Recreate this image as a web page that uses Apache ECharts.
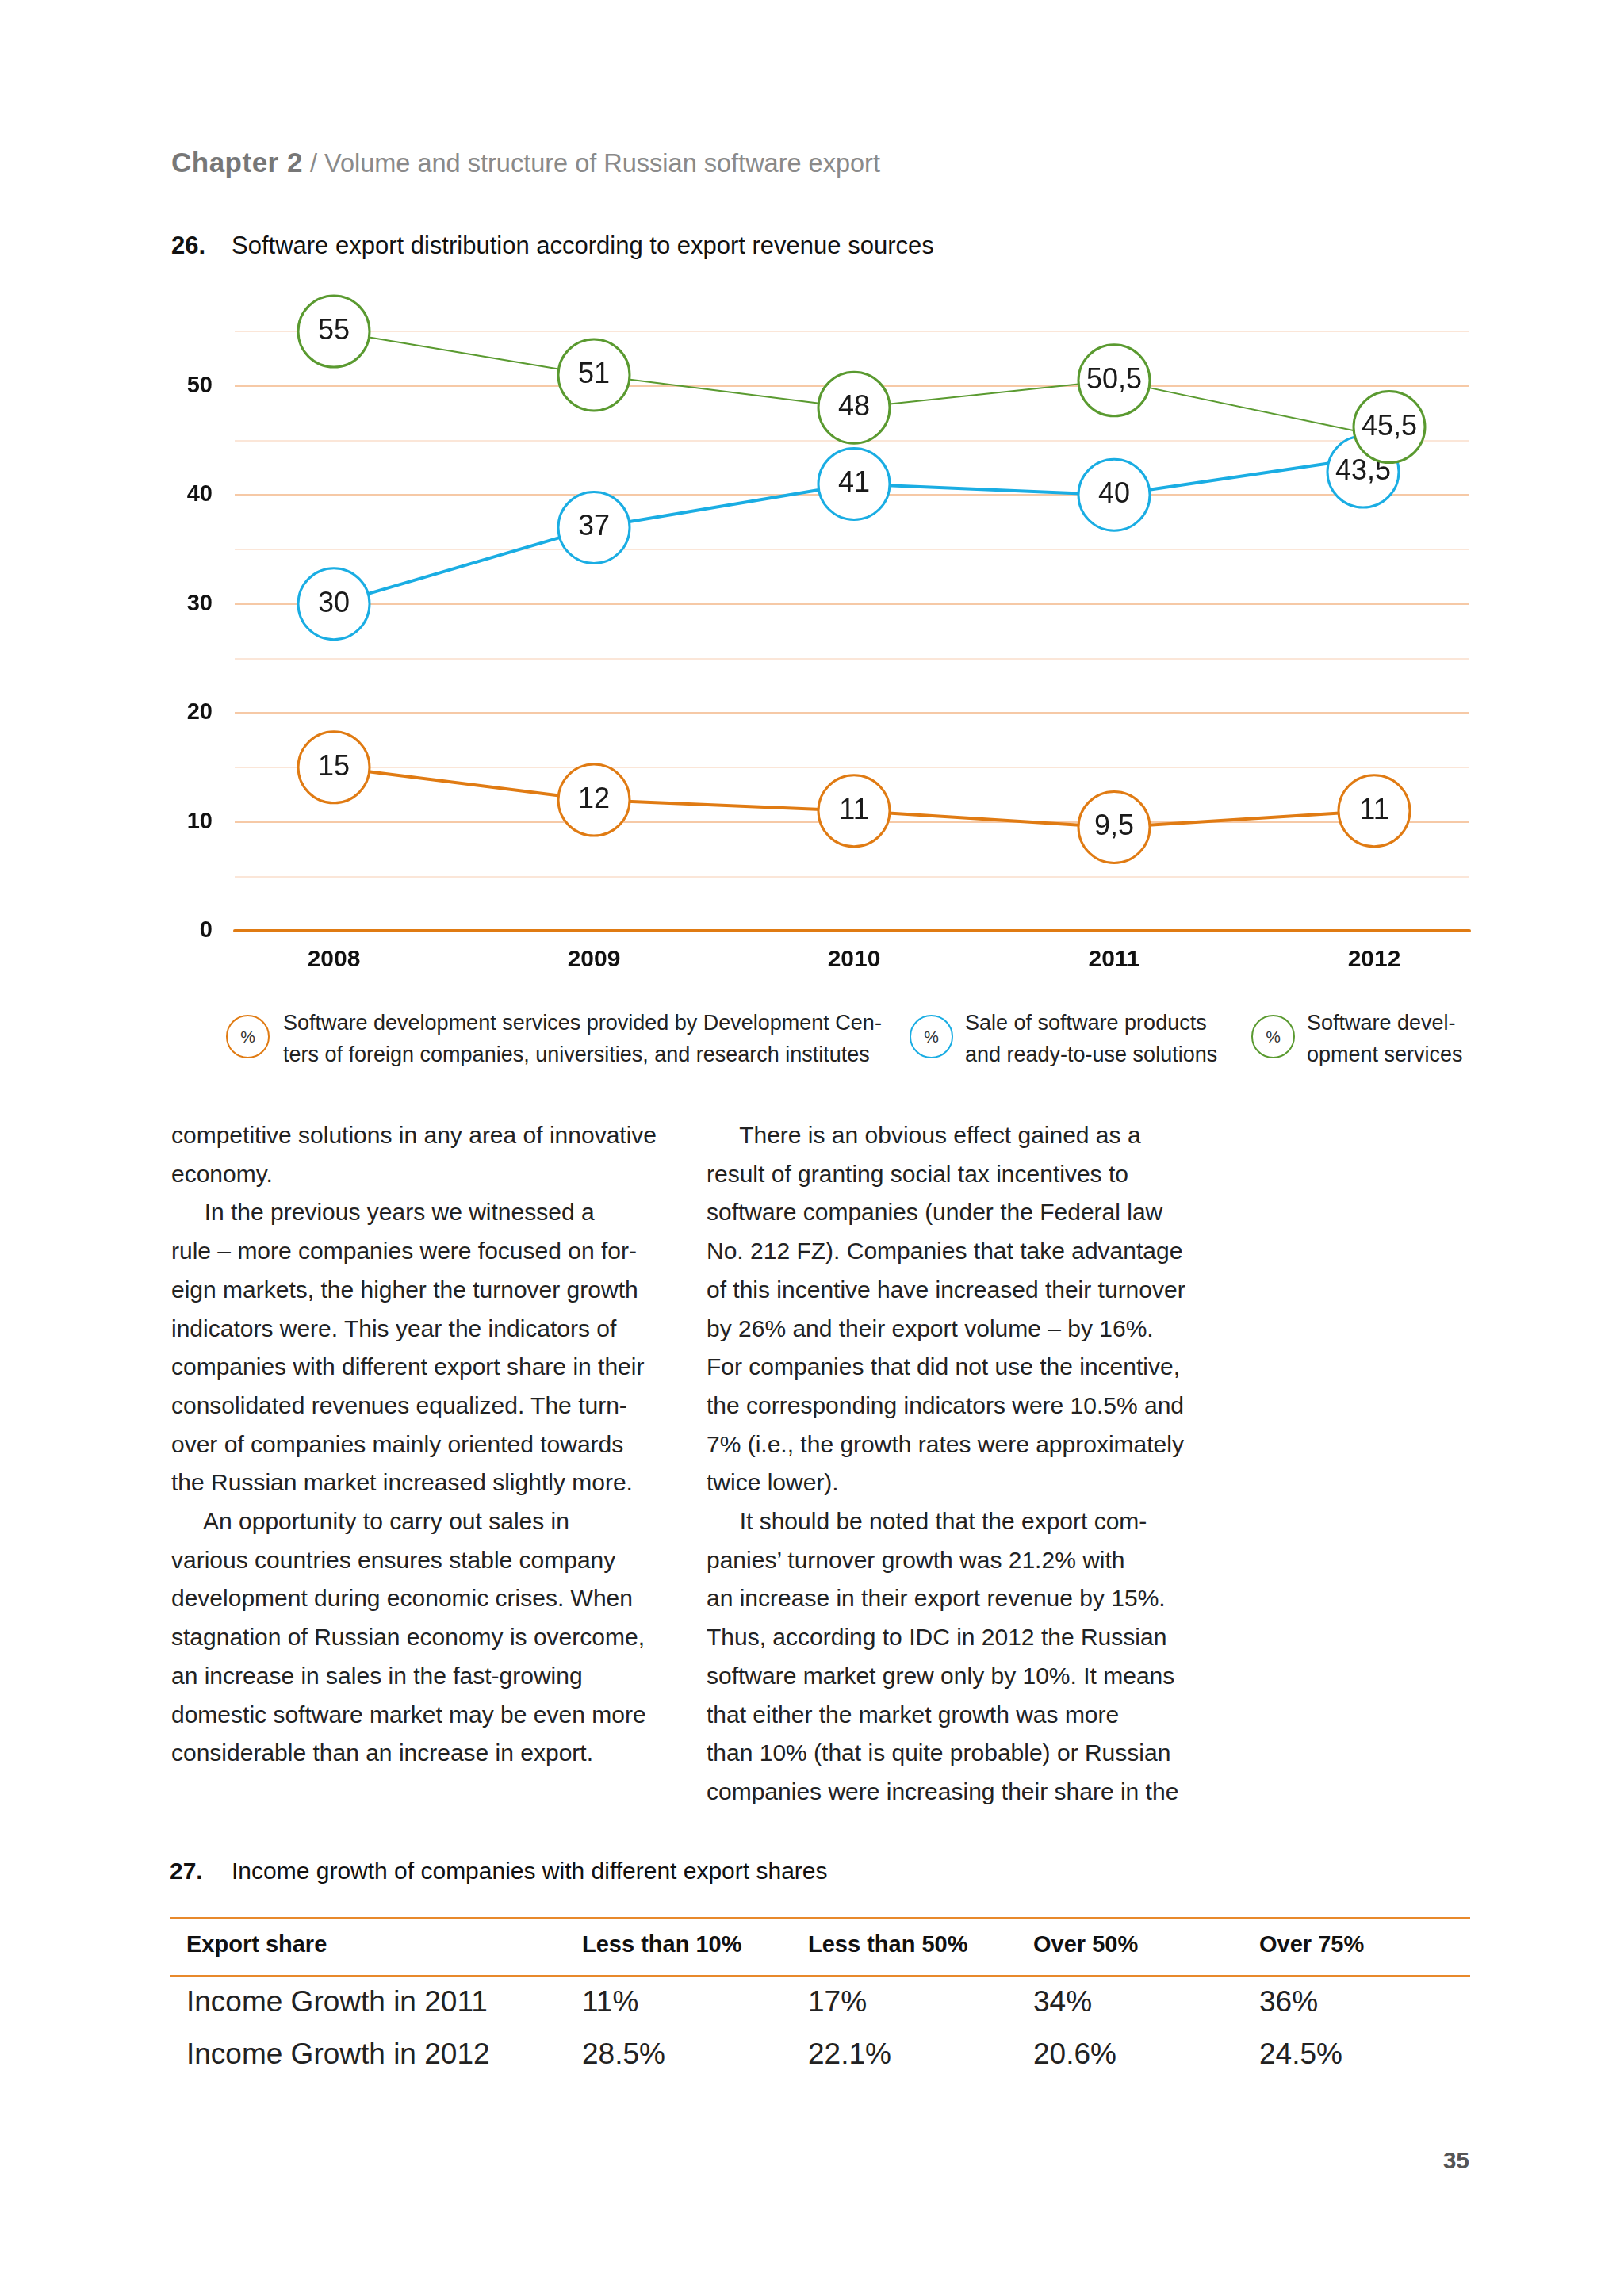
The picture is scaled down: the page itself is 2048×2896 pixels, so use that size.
<!DOCTYPE html>
<html>
<head>
<meta charset="utf-8">
<script src="https://cdn.jsdelivr.net/npm/echarts@6/dist/echarts.min.js"></script>
<style>
  html, body { margin: 0; padding: 0; background: #fff; }
  body { width: 2048px; height: 2896px; position: relative; overflow: hidden;
         font-family: "Liberation Sans", Arial, Helvetica, sans-serif; color: #222; }
  .abs { position: absolute; white-space: nowrap; }
  #chart { position: absolute; left: 0; top: 350px; width: 2048px; height: 900px; }
  .col { position: absolute; font-size: 30px; line-height: 48.7px; white-space: pre; color: #222; }
  .lg-circle { position: absolute; width: 51px; height: 51px; border-radius: 50%; border: 2px solid;
               font-size: 21px; line-height: 51px; text-align: center; color: #333; }
  .lg-text { position: absolute; font-size: 27px; line-height: 40px; white-space: pre; color: #222; }
  .th { position: absolute; font-size: 29px; font-weight: bold; line-height: 40px; white-space: nowrap; color: #111; }
  .td { position: absolute; font-size: 37px; line-height: 50px; white-space: nowrap; color: #222; }
  .hline { position: absolute; left: 214px; width: 1640px; height: 3px; background: #e8892b; }
</style>
</head>
<body>

<div class="abs" style="left:216px; top:185px; font-size:32.5px; line-height:40px;">
  <span style="font-weight:bold; color:#777; font-size:35px; letter-spacing:0.5px;">Chapter 2</span><span style="color:#8a8a8a;"> / Volume and structure of Russian software export</span>
</div>

<div class="abs" style="left:216px; top:290px; font-size:31px; line-height:40px; font-weight:bold; color:#111;">26.</div>
<div class="abs" style="left:292px; top:290px; font-size:31px; line-height:40px; color:#111;">Software export distribution according to export revenue sources</div>

<div id="chart"></div>

<div id="legend"></div>

<div class="col" style="left:216px; top:1408px;">competitive solutions in any area of innovative
economy.
     In the previous years we witnessed a
rule – more companies were focused on for-
eign markets, the higher the turnover growth
indicators were. This year the indicators of
companies with different export share in their
consolidated revenues equalized. The turn-
over of companies mainly oriented towards
the Russian market increased slightly more.
     An opportunity to carry out sales in
various countries ensures stable company
development during economic crises. When
stagnation of Russian economy is overcome,
an increase in sales in the fast-growing
domestic software market may be even more
considerable than an increase in export.</div>

<div class="col" style="left:891px; top:1408px;">     There is an obvious effect gained as a
result of granting social tax incentives to
software companies (under the Federal law
No. 212 FZ). Companies that take advantage
of this incentive have increased their turnover
by 26% and their export volume – by 16%.
For companies that did not use the incentive,
the corresponding indicators were 10.5% and
7% (i.e., the growth rates were approximately
twice lower).
     It should be noted that the export com-
panies’ turnover growth was 21.2% with
an increase in their export revenue by 15%.
Thus, according to IDC in 2012 the Russian
software market grew only by 10%. It means
that either the market growth was more
than 10% (that is quite probable) or Russian
companies were increasing their share in the</div>

<div class="abs" style="left:214px; top:2340px; font-size:30px; line-height:40px; font-weight:bold; color:#111;">27.</div>
<div class="abs" style="left:292px; top:2340px; font-size:30px; line-height:40px; color:#111;">Income growth of companies with different export shares</div>

<div id="table"></div>

<div class="abs" style="left:1800px; top:2705px; width:53px; text-align:right; font-size:30px; line-height:40px; font-weight:bold; color:#555;">35</div>

<script>
// ---- Chart data ----
const years = ['2008', '2009', '2010', '2011', '2012'];
const seriesNames = [
  'Software development services provided by Development Centers of foreign companies, universities, and research institutes',
  'Sale of software products and ready-to-use solutions',
  'Software development services'
];
const devCenters = [15, 12, 11, 9.5, 11];
const softwareProducts = [30, 37, 41, 40, 43.5];
const devServices = [55, 51, 48, 50.5, 45.5];
const yTicks = [0, 10, 20, 30, 40, 50];

// ---- Legend text (as printed, with hyphenation) ----
const legendLines = [
  ['Software development services provided by Development Cen-', 'ters of foreign companies, universities, and research institutes'],
  ['Sale of software products', 'and ready-to-use solutions'],
  ['Software devel-', 'opment services']
];

// ---- Table data ----
const tableHeader = ['Export share', 'Less than 10%', 'Less than 50%', 'Over 50%', 'Over 75%'];
const rowLabels = ['Income Growth in 2011', 'Income Growth in 2012'];
const growth2011 = ['11%', '17%', '34%', '36%'];
const growth2012 = ['28.5%', '22.1%', '20.6%', '24.5%'];

const colors = ['#e07b13', '#1aade3', '#5a9a30'];
const FONT = '"Liberation Sans", Arial, Helvetica, sans-serif';

function fmt(v) { return String(v).replace('.', ','); }

function makeSeries(name, values, color, lineWidth, z, offsets) {
  return {
    name: name,
    type: 'line',
    xAxisIndex: 1,
    yAxisIndex: 1,
    z: z,
    data: values.map(function (v, i) {
      const item = { value: v };
      if (offsets && offsets[i]) item.symbolOffset = offsets[i];
      return item;
    }),
    symbol: 'circle',
    symbolSize: 90,
    showAllSymbol: true,
    lineStyle: { color: color, width: lineWidth },
    itemStyle: { color: '#fff', borderColor: color, borderWidth: 3 },
    label: {
      show: true, position: 'inside', formatter: function (p) { return fmt(p.value); },
      fontSize: 36, color: '#1a1a1a', fontFamily: FONT
    },
    emphasis: { disabled: true },
    animation: false
  };
}

const chart = echarts.init(document.getElementById('chart'), null, { renderer: 'canvas' });
chart.setOption({
  animation: false,
  grid: [
    { left: 296, right: 195, top: 68, height: 756 },
    { left: 257, right: 151, top: 68, height: 756 }
  ],
  xAxis: [
    { gridIndex: 0, type: 'category', data: years, boundaryGap: false,
      axisLine: { show: true, lineStyle: { color: '#e07b13', width: 4 } },
      axisTick: { show: false }, axisLabel: { show: false }, splitLine: { show: false } },
    { gridIndex: 1, type: 'category', data: years, boundaryGap: true,
      axisLine: { show: false }, axisTick: { show: false }, splitLine: { show: false },
      axisLabel: { show: true, margin: 22, fontSize: 30, fontWeight: 'bold', color: '#111', fontFamily: FONT } }
  ],
  yAxis: [
    { gridIndex: 0, type: 'value', min: 0, max: 55, interval: 5,
      axisLine: { show: false }, axisTick: { show: false },
      axisLabel: { margin: 28, fontSize: 29, fontWeight: 'bold', color: '#111', fontFamily: FONT,
        formatter: function (v) { return yTicks.indexOf(v) >= 0 ? String(v) : ''; } },
      splitLine: { show: true, lineStyle: { color: ['#f6c9a6', '#fbe6d8'], width: 2 } } },
    { gridIndex: 1, type: 'value', min: 0, max: 55, interval: 5, show: false,
      splitLine: { show: false } }
  ],
  series: [
    makeSeries(seriesNames[0], devCenters, colors[0], 4, 2, null),
    makeSeries(seriesNames[1], softwareProducts, colors[1], 4, 3, [null, null, null, null, [-14, 19]]),
    makeSeries(seriesNames[2], devServices, colors[2], 2, 4, [null, null, null, null, [19, -10]])
  ]
});

// ---- Legend (HTML) ----
const legendPos = [
  { cx: 312, tx: 357 },
  { cx: 1174, tx: 1217 },
  { cx: 1605, tx: 1648 }
];
const legendEl = document.getElementById('legend');
legendLines.forEach(function (lines, i) {
  const c = document.createElement('div');
  c.className = 'lg-circle';
  c.style.left = (legendPos[i].cx - 27) + 'px';
  c.style.top = (1307 - 27) + 'px';
  c.style.borderColor = colors[i];
  c.textContent = '%';
  c.title = seriesNames[i];
  legendEl.appendChild(c);
  const t = document.createElement('div');
  t.className = 'lg-text';
  t.style.left = legendPos[i].tx + 'px';
  t.style.top = '1270px';
  t.textContent = lines.join('\n');
  legendEl.appendChild(t);
});

// ---- Table (HTML) ----
const colX = [235, 734, 1019, 1303, 1588];
const tableEl = document.getElementById('table');
function addLine(y) {
  const l = document.createElement('div');
  l.className = 'hline';
  l.style.top = (y - 1) + 'px';
  tableEl.appendChild(l);
}
addLine(2419);
addLine(2492);
tableHeader.forEach(function (h, i) {
  const d = document.createElement('div');
  d.className = 'th';
  d.style.left = colX[i] + 'px';
  d.style.top = (2452 - 20) + 'px';
  d.textContent = h;
  tableEl.appendChild(d);
});
[growth2011, growth2012].forEach(function (row, r) {
  const y = [2525, 2591][r];
  const cells = [rowLabels[r]].concat(row);
  cells.forEach(function (txt, i) {
    const d = document.createElement('div');
    d.className = 'td';
    d.style.left = colX[i] + 'px';
    d.style.top = (y - 25) + 'px';
    d.textContent = txt;
    tableEl.appendChild(d);
  });
});
</script>
</body>
</html>
